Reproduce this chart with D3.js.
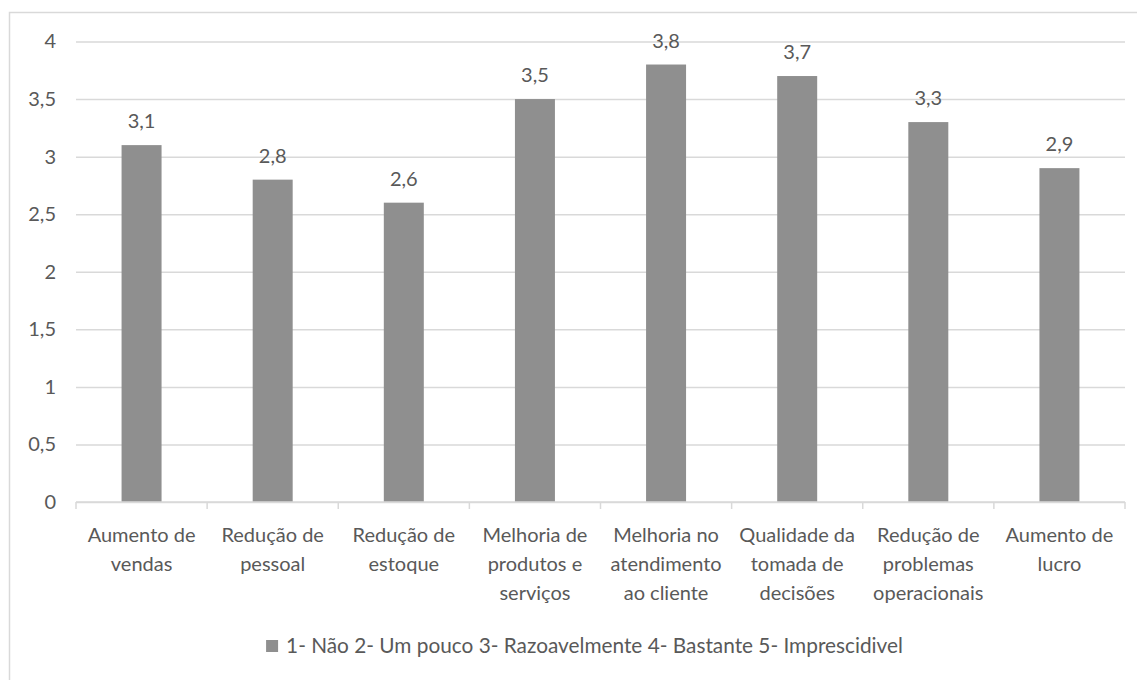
<!DOCTYPE html>
<html>
<head>
<meta charset="utf-8">
<script src="https://cdn.jsdelivr.net/npm/d3@7"></script>
<style>
  html, body { margin: 0; padding: 0; background: #ffffff; }
  svg { display: block; }
  text { font-family: Lato, "Open Sans", sans-serif; fill: #595959; }
</style>
</head>
<body>
<svg id="chart" width="1137" height="680"></svg>
<script>
const categories = [
  "Aumento de\nvendas",
  "Redução de\npessoal",
  "Redução de\nestoque",
  "Melhoria de\nprodutos e\nserviços",
  "Melhoria no\natendimento\nao cliente",
  "Qualidade da\ntomada de\ndecisões",
  "Redução de\nproblemas\noperacionais",
  "Aumento de\nlucro"
];
const values = [3.1, 2.8, 2.6, 3.5, 3.8, 3.7, 3.3, 2.9];
const yTicks = [0, 0.5, 1, 1.5, 2, 2.5, 3, 3.5, 4];
const seriesName = "1- Não 2- Um pouco 3- Razoavelmente 4- Bastante 5- Imprescidivel";

const fmt = v => String(v).replace(".", ",");

const svg = d3.select("#chart");
const W = 1137, H = 680;
const margin = { left: 76, right: 12, top: 41.5, bottom: 178 };
const plotW = W - margin.left - margin.right;   // 1049
const plotH = H - margin.top - margin.bottom;   // ~460
const FS = 20;

// outer frame (only top/left visible)
svg.append("rect")
  .attr("x", 9.5).attr("y", 12.5)
  .attr("width", 1140).attr("height", 690)
  .attr("fill", "none").attr("stroke", "#d9d9d9").attr("stroke-width", 1.5);

const x = d3.scaleBand()
  .domain(d3.range(categories.length))
  .range([margin.left, margin.left + plotW])
  .paddingInner(0.695).paddingOuter(0.3475);

const xb = d3.scaleBand()
  .domain(d3.range(categories.length))
  .range([margin.left, margin.left + plotW]);

const y = d3.scaleLinear()
  .domain([0, 4])
  .range([margin.top + plotH, margin.top]);

// gridlines + y labels
const yAxis = d3.axisLeft(y)
  .tickValues(yTicks)
  .tickSize(-plotW)
  .tickPadding(20)
  .tickFormat(fmt);

const gy = svg.append("g")
  .attr("transform", `translate(${margin.left},0)`)
  .call(yAxis);
gy.select(".domain").remove();
gy.selectAll(".tick line").attr("stroke", "#d9d9d9").attr("stroke-width", 1.5);
gy.selectAll(".tick text")
  .attr("font-size", FS)
  .attr("fill", "#595959")
  .attr("font-family", "Lato, sans-serif");

// bars
svg.append("g").selectAll("rect")
  .data(values)
  .join("rect")
  .attr("x", (d, i) => x(i))
  .attr("width", x.bandwidth())
  .attr("y", d => y(d))
  .attr("height", d => y(0) - y(d))
  .attr("fill", "#8f8f8f");

// data labels
svg.append("g").selectAll("text")
  .data(values)
  .join("text")
  .attr("x", (d, i) => x(i) + x.bandwidth() / 2)
  .attr("y", d => y(d) - 17)
  .attr("text-anchor", "middle")
  .attr("font-size", FS)
  .text(d => fmt(d));

// x axis line with boundary ticks
const baseY = y(0);
svg.append("line")
  .attr("x1", margin.left).attr("x2", margin.left + plotW)
  .attr("y1", baseY).attr("y2", baseY)
  .attr("stroke", "#d9d9d9").attr("stroke-width", 1.5);
const bounds = d3.range(categories.length + 1).map(i =>
  i < categories.length ? xb(i) : xb(i - 1) + xb.bandwidth());
svg.append("g").selectAll("line")
  .data(bounds)
  .join("line")
  .attr("x1", d => d).attr("x2", d => d)
  .attr("y1", baseY).attr("y2", baseY + 7)
  .attr("stroke", "#d9d9d9").attr("stroke-width", 1.5);

// category labels
const catG = svg.append("g").selectAll("text")
  .data(categories)
  .join("text")
  .attr("text-anchor", "middle")
  .attr("font-size", FS)
  .attr("x", (d, i) => xb(i) + xb.bandwidth() / 2)
  .attr("y", baseY + 40);
catG.selectAll("tspan")
  .data(d => d.split("\n"))
  .join("tspan")
  .attr("x", function () { return this.parentNode.getAttribute("x"); })
  .attr("dy", (d, i) => i === 0 ? 0 : 29)
  .text(d => d);

// legend
const legend = svg.append("g");
const legText = legend.append("text")
  .attr("font-size", 20.8)
  .attr("y", 653)
  .text(seriesName);
const tw = legText.node().getComputedTextLength();
const totalW = 12 + 8 + tw;
const lx = 584.5 - totalW / 2;
legend.append("rect")
  .attr("x", lx).attr("y", 640)
  .attr("width", 12).attr("height", 12)
  .attr("fill", "#8f8f8f");
legText.attr("x", lx + 20);
</script>
</body>
</html>
